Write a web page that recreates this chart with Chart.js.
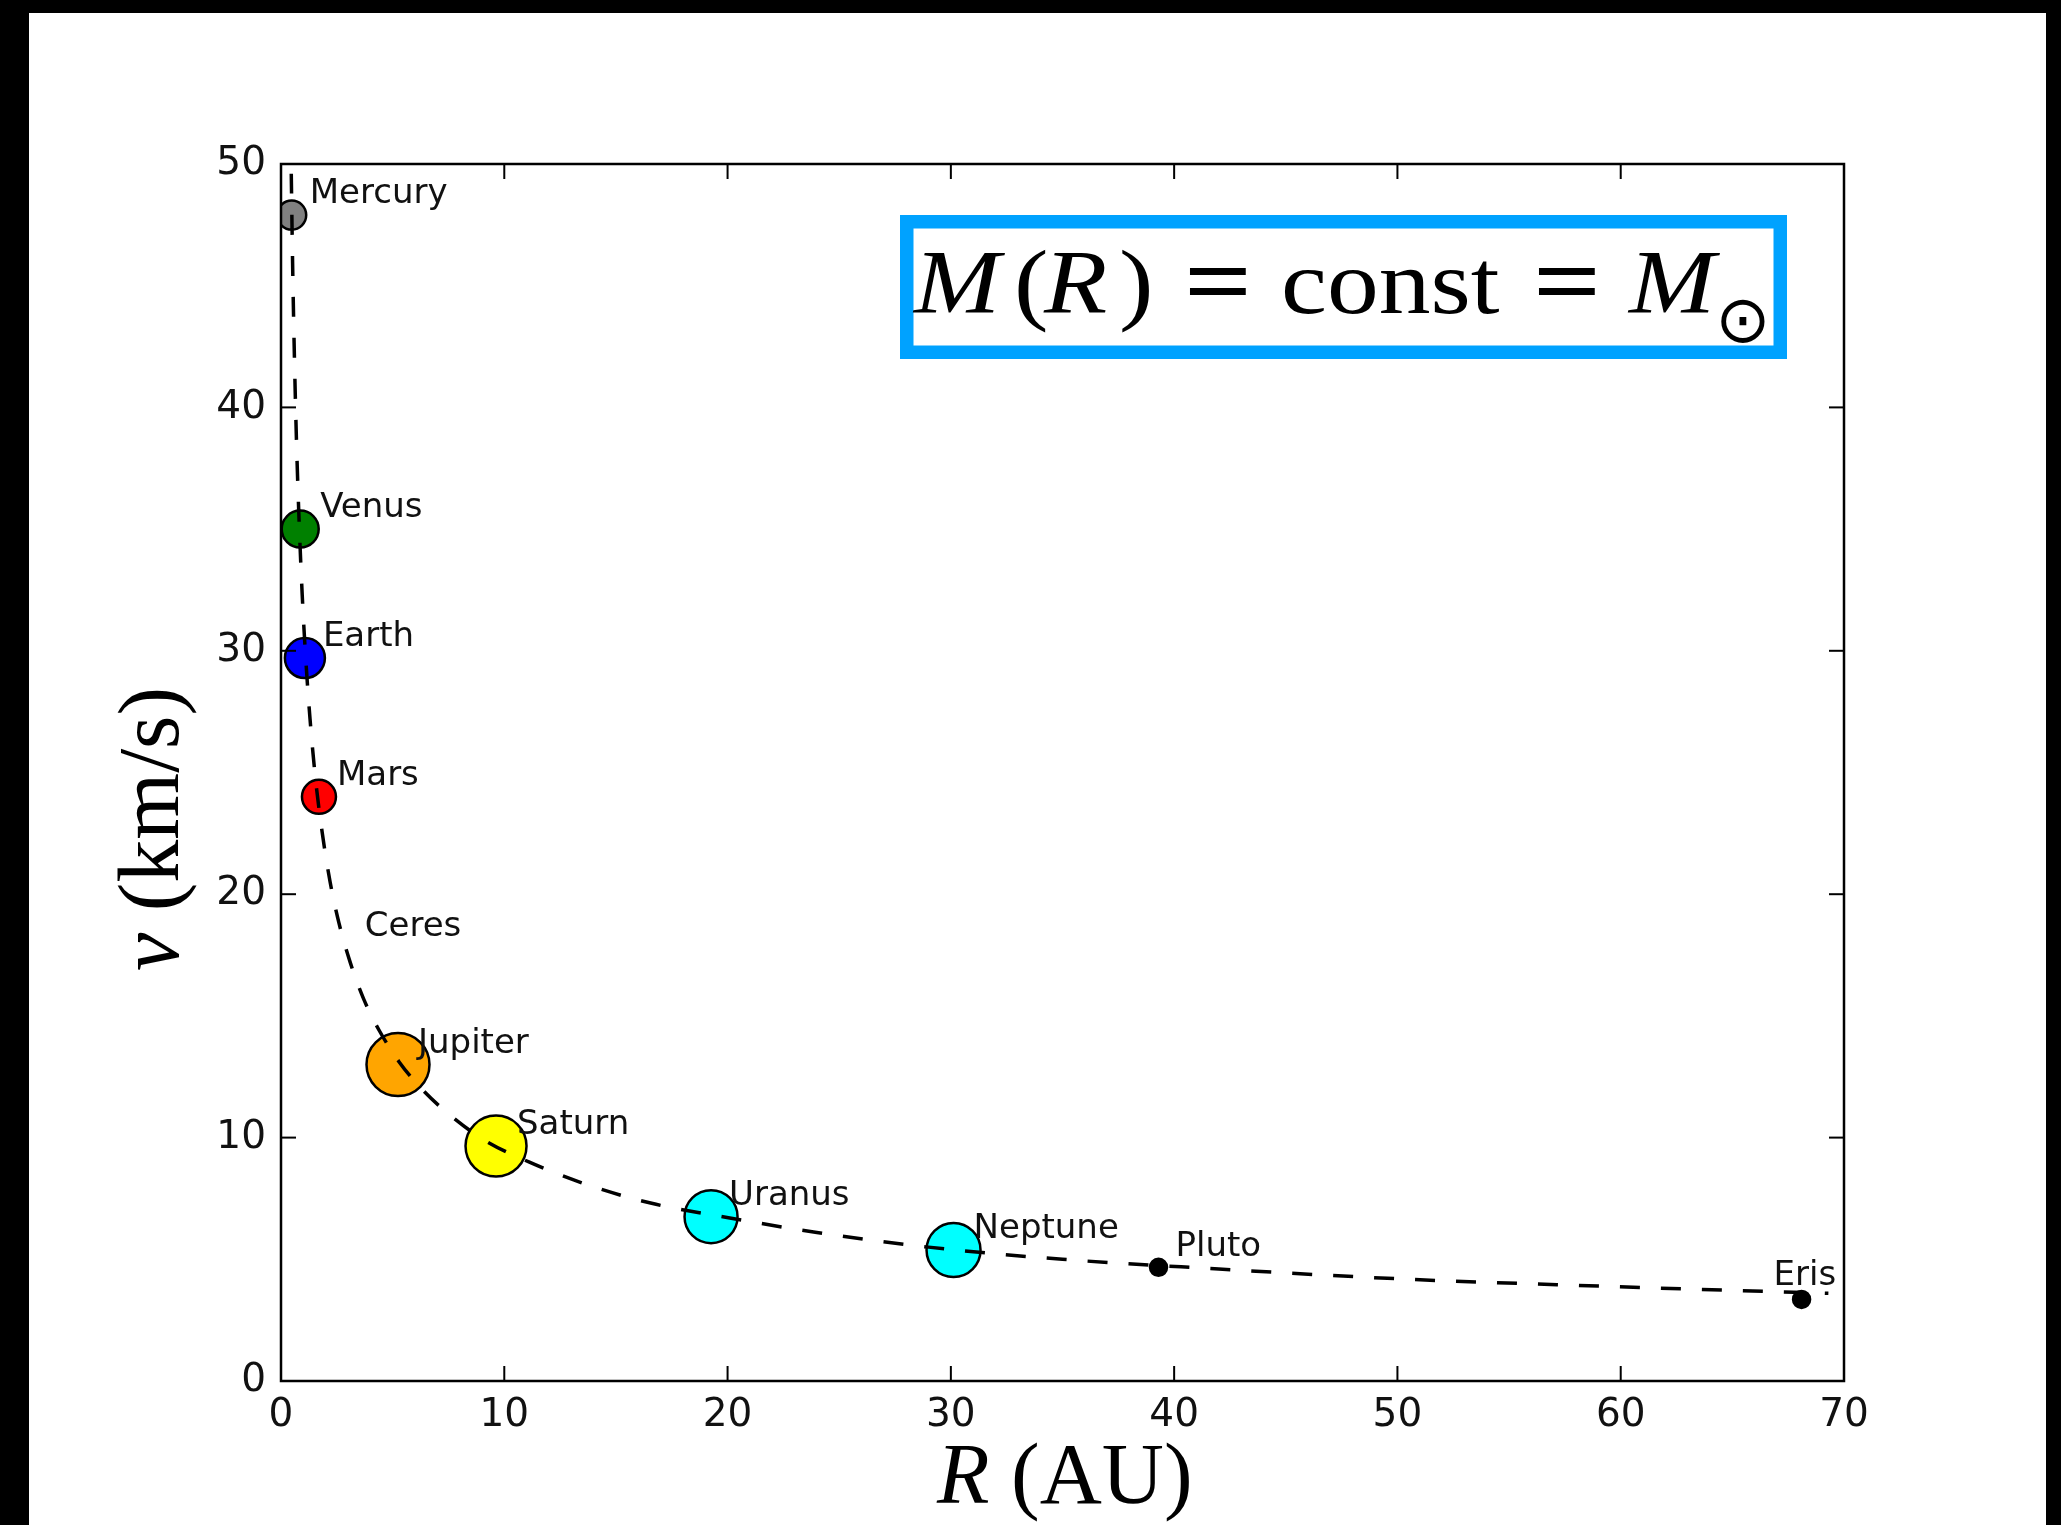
<!DOCTYPE html>
<html>
<head>
<meta charset="utf-8">
<script src="https://cdn.jsdelivr.net/npm/chart.js@4.4.0/dist/chart.umd.min.js"></script>
<style>
html,body{margin:0;padding:0;background:#fff;overflow:hidden;}
#wrap{position:absolute;left:0;top:0;width:2061px;height:1525px;}
</style>
</head>
<body>
<div id="wrap"><canvas id="c" width="2061" height="1525"></canvas></div>
<script>
// ---- data ----
const planetNames = ['Mercury','Venus','Earth','Mars','Ceres','Jupiter','Saturn','Uranus','Neptune','Pluto','Eris'];
const planetR     = [0.48, 0.86, 1.07, 1.70, 2.9, 5.24, 9.63, 19.26, 30.12, 39.3, 68.1];   // AU
const planetV     = [47.9, 35.0, 29.7, 24.0, 17.8, 13.0, 9.65, 6.75, 5.38, 4.67, 3.35];   // km/s

// dashed Keplerian curve
const curveR = [0.46, 0.52, 0.6, 0.7, 0.82, 0.95, 1.1, 1.3, 1.55, 1.85, 2.2, 2.6, 3.1, 3.7, 4.4, 5.3, 6.3, 7.6, 9.1, 11.1, 13.6, 16.6, 20.1, 24, 29, 35, 42, 50, 59, 69.3];
const curveV = [49.6, 45.9, 42.1, 38.4, 35.1, 32.3, 29.8, 27.2, 24.7, 22.5, 20.5, 18.8, 17.2, 15.7, 14.4, 13.1, 12.0, 10.9, 9.9, 9.0, 8.1, 7.3, 6.7, 6.1, 5.5, 5.0, 4.6, 4.2, 3.9, 3.6];

const xTicks = [0, 10, 20, 30, 40, 50, 60, 70];
const yTicks = [0, 10, 20, 30, 40, 50];

// ---- styles ----
const markerColors = ['#808080','#008000','#0000ff','#ff0000','#ffffff','#ffa500','#ffff00','#00ffff','#00ffff','#000000','#000000'];
const markerRadius = [14.5, 18.5, 20, 17, 0, 31.5, 30.5, 26.5, 27, 8.5, 8.5];
const labelOffsets = [[18,-12],[20,-12],[18,-12],[18,-12],[19,-12],[20,-12],[21,-12],[18,-12],[20,-12],[17,-11],[-28,-14]];

const planetPoints = planetR.map((r,i)=>({x:r, y:planetV[i]}));
const curvePoints  = curveR.map((r,i)=>({x:r, y:curveV[i]}));

const decor = {
  id:'decor',
  beforeDraw(chart){
    const ctx = chart.ctx;
    ctx.save();
    ctx.fillStyle='#fff'; ctx.fillRect(0,0,2061,1525);
    ctx.fillStyle='#000';
    ctx.fillRect(0,0,2061,13);
    ctx.fillRect(0,0,29,1525);
    ctx.fillRect(2046,0,15,1525);
    ctx.restore();
  },
  afterDatasetsDraw(chart){
    const {ctx, chartArea:a, scales:{x,y}} = chart;
    ctx.save();
    // planet labels
    ctx.font = '34px "DejaVu Sans"';
    ctx.fillStyle = '#111';
    ctx.textAlign='left'; ctx.textBaseline='alphabetic';
    planetNames.forEach((n,i)=>{
      const px = x.getPixelForValue(planetR[i]);
      const py = y.getPixelForValue(planetV[i]);
      ctx.fillText(n, px+labelOffsets[i][0], py+labelOffsets[i][1]);
    });
    // inward ticks on all sides
    ctx.strokeStyle='#000'; ctx.lineWidth=2;
    const seg=(x1,y1,x2,y2)=>{ctx.beginPath();ctx.moveTo(x1,y1);ctx.lineTo(x2,y2);ctx.stroke();};
    x.ticks.forEach(t=>{const p=x.getPixelForValue(t.value); seg(p,a.bottom,p,a.bottom-15); seg(p,a.top,p,a.top+15);});
    y.ticks.forEach(t=>{const p=y.getPixelForValue(t.value); seg(a.left,p,a.left+15,p); seg(a.right,p,a.right-15,p);});
    // frame
    ctx.lineWidth=2.5;
    ctx.strokeRect(a.left,a.top,a.right-a.left,a.bottom-a.top);
    ctx.restore();
  },
  afterDraw(chart){
    const ctx = chart.ctx;
    ctx.save();
    ctx.fillStyle='#000';
    ctx.textBaseline='alphabetic'; ctx.textAlign='left';
    // x title
    ctx.font = 'italic 86px "Liberation Serif"';
    ctx.fillText('R', 937, 1503);
    const wR = ctx.measureText('R').width;
    ctx.font = '86px "Liberation Serif"';
    ctx.fillText(' (AU)', 937+wR, 1503);
    // y title
    ctx.save();
    ctx.translate(178, 971);
    ctx.rotate(-Math.PI/2);
    ctx.font = 'italic 86px "Liberation Serif"';
    ctx.fillText('v', 0, 0);
    const wv = ctx.measureText('v').width;
    ctx.font = '86px "Liberation Serif"';
    ctx.fillText(' (km/s)', wv, 0);
    ctx.restore();
    // formula box
    ctx.strokeStyle='#00a2ff';
    ctx.lineWidth=13.5;
    ctx.strokeRect(906.75, 221.75, 873.5, 130.5);
    const pieces = [
      ['M', 914, 'italic ', 90, 1.15, 313], ['(', 1014, '', 90, 1.15, 313], ['R', 1044, 'italic ', 90, 1.15, 313], [')', 1119, '', 90, 1.15, 313],
      ['=', 1184, 'bold ', 100, 1.2, 315], ['const', 1281, '', 90, 1.15, 313], ['=', 1533, 'bold ', 100, 1.2, 315], ['M', 1629, 'italic ', 90, 1.15, 313]
    ];
    pieces.forEach(p=>{
      ctx.save();
      ctx.translate(p[1], p[5]);
      ctx.scale(p[4], 1);
      ctx.font = p[2] + p[3] + 'px "Liberation Serif"';
      ctx.fillText(p[0], 0, 0);
      ctx.restore();
    });
    ctx.font = '66px "DejaVu Sans"';
    ctx.textAlign='center';
    ctx.fillText('\u2299', 1743, 342);
    ctx.restore();
  }
};

new Chart(document.getElementById('c'), {
  type:'scatter',
  data:{
    datasets:[
      {
        type:'line',
        label:'curve',
        data: curvePoints,
        showLine:true,
        borderColor:'#000',
        borderWidth:3.5,
        borderDash:[20,21],
        pointRadius:0,
        fill:false,
        cubicInterpolationMode:'monotone',
        clip:0,
        order:0
      },
      {
        label:'planets',
        data: planetPoints,
        backgroundColor: markerColors,
        borderColor:'#000',
        borderWidth:2.5,
        pointRadius: markerRadius,
        pointHoverRadius: markerRadius,
        clip:0,
        order:1
      }
    ]
  },
  options:{
    responsive:false,
    devicePixelRatio:1,
    animation:false,
    events:[],
    layout:{padding:{left:0,right:217,top:164,bottom:0}},
    plugins:{legend:{display:false}, tooltip:{enabled:false}},
    scales:{
      x:{
        type:'linear', position:'bottom', min:0, max:70,
        afterBuildTicks(s){ s.ticks = xTicks.map(v=>({value:v})); },
        ticks:{font:{family:'DejaVu Sans', size:39}, color:'#111', padding:3},
        grid:{display:false}, border:{display:false},
        afterFit(s){ s.height = 144; }
      },
      y:{
        type:'linear', position:'left', min:0, max:50,
        afterBuildTicks(s){ s.ticks = yTicks.map(v=>({value:v})); },
        ticks:{font:{family:'DejaVu Sans', size:39}, color:'#111', padding:7},
        grid:{display:false}, border:{display:false},
        afterFit(s){ s.width = 281; }
      }
    }
  },
  plugins:[decor]
});
</script>
</body>
</html>
